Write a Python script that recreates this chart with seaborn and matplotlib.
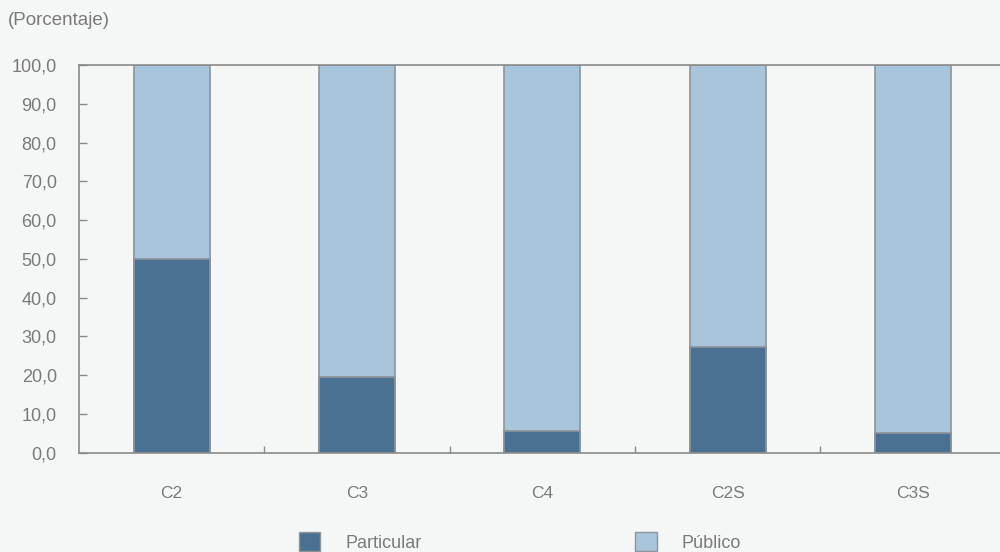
import matplotlib
matplotlib.use("Agg")
import matplotlib.pyplot as plt
from matplotlib.patches import Patch
from matplotlib.ticker import FixedLocator
import seaborn as sns
import pandas as pd

# Distribution by category (percent)
categories = ["C2", "C3", "C4", "C2S", "C3S"]
particular = [50.0, 19.5, 5.6, 27.3, 5.1]
publico = [50.0, 80.5, 94.4, 72.7, 94.9]
yticks = [0, 10, 20, 30, 40, 50, 60, 70, 80, 90, 100]

sns.set_theme(style="white")
plt.rcParams["font.family"] = ["Liberation Sans Narrow", "Liberation Sans", "DejaVu Sans"]

bg = "#f5f7f6"
dark = "#4b7192"
light = "#a9c5db"
edge = "#8c949c"
txt = "#7a7a7a"
axc = "#8a8a8a"

df = pd.DataFrame({"cat": categories, "particular": particular, "publico": publico})
df["total"] = df["particular"] + df["publico"]

fig = plt.figure(figsize=(10, 5.52), dpi=100, facecolor=bg)
ax = fig.add_axes([0.079, 0.180, 0.921, 0.702])
ax.set_facecolor(bg)

# Público fills the full column; Particular is drawn over its lower part
sns.barplot(data=df, x="cat", y="total", color=light, width=0.41,
            edgecolor=edge, linewidth=1.2, saturation=1, ax=ax)
sns.barplot(data=df, x="cat", y="particular", color=dark, width=0.41,
            edgecolor=edge, linewidth=1.2, saturation=1, ax=ax)

ax.set_xlim(-0.5, 4.47)
ax.set_ylim(0, 100)
ax.set_xlabel("")
ax.set_ylabel("")

ax.set_yticks(yticks)
ax.set_yticklabels([f"{v:.1f}".replace(".", ",") for v in yticks])
ax.set_xticks(range(len(categories)))
ax.set_xticklabels(categories)
ax.xaxis.set_minor_locator(FixedLocator([0.5, 1.5, 2.5, 3.5]))

ax.tick_params(axis="y", which="major", direction="in", length=6, width=1,
               color=axc, labelcolor=txt, labelsize=13, pad=16, left=True)
ax.tick_params(axis="x", which="major", length=0, labelcolor=txt,
               labelsize=12.5, pad=24)
ax.tick_params(axis="x", which="minor", direction="in", length=5, width=1,
               color=axc, bottom=True)

for side in ["left", "bottom", "top"]:
    ax.spines[side].set_color(axc)
    ax.spines[side].set_linewidth(1.2)
ax.spines["right"].set_visible(False)

fig.text(0.008, 0.962, "(Porcentaje)", color=txt, fontsize=13.5, ha="left", va="center")

handles = [Patch(facecolor=dark, edgecolor=edge, label="Particular"),
           Patch(facecolor=light, edgecolor=edge, label="Público")]
leg = fig.legend(handles=handles, loc="center", bbox_to_anchor=(0.52, 0.018),
                 ncol=2, frameon=False, fontsize=13, handlelength=1.2,
                 handleheight=1.2, handletextpad=1.4, columnspacing=11.8)
for t in leg.get_texts():
    t.set_color(txt)

fig.savefig("out.png", dpi=100, facecolor=bg)
